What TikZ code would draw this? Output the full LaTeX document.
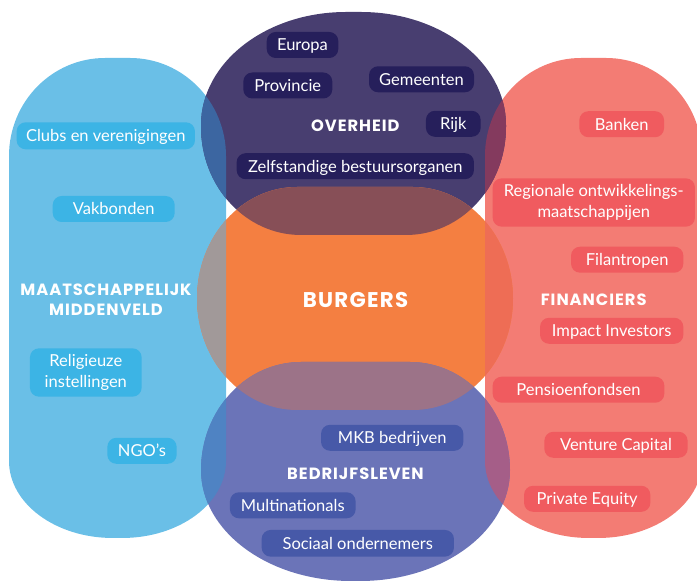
\documentclass[tikz,border=0pt]{standalone}
\usepackage{fontspec}
\setmainfont{Lato}
\newfontfamily\headfont{Poppins}[LetterSpace=6]
\definecolor{cL}{HTML}{6ABFE7}
\definecolor{cR}{HTML}{F37C74}
\definecolor{cT}{HTML}{483E70}
\definecolor{cC}{HTML}{F47F41}
\definecolor{cB}{HTML}{6B74B8}
\definecolor{pL}{HTML}{3CB4E5}
\definecolor{pR}{HTML}{F05B5F}
\definecolor{pT}{HTML}{261F5B}
\definecolor{pB}{HTML}{4759A8}
\definecolor{xLT}{HTML}{3C66A1}
\definecolor{xTR}{HTML}{843A5E}
\definecolor{xCT}{HTML}{874F57}
\definecolor{xCL}{HTML}{A19999}
\definecolor{xCR}{HTML}{EE6D55}
\definecolor{xBC}{HTML}{9C7388}
\definecolor{xBL}{HTML}{4F83C3}
\definecolor{xBR}{HTML}{A55E88}
\newcommand\blob[8]{(#1,{#3+#8}) -- (#1,{#4-#6}) arc[start angle=180,end angle=90,x radius=#5pt,y radius=#6pt] -- ({#2-#5},#4) arc[start angle=90,end angle=0,x radius=#5pt,y radius=#6pt] -- (#2,{#3+#8}) arc[start angle=0,end angle=-90,x radius=#7pt,y radius=#8pt] -- ({#1+#7},#3) arc[start angle=-90,end angle=-180,x radius=#7pt,y radius=#8pt] -- cycle}
\newcommand\shL{\blob{9}{226}{43}{523}{96}{98}{104}{77}}
\newcommand\shR{\blob{485}{702}{43}{523}{96}{98}{104}{77}}
\newcommand\shT{\blob{201}{506}{346}{569}{145}{113}{100}{108}}
\newcommand\shC{\blob{197}{513}{171}{394}{100}{111.5}{100}{111.5}}
\newcommand\shB{\blob{201}{510}{0}{219}{100}{108}{150}{111}}
\newcommand\pillfs{\fontsize{16.5}{21}\selectfont}
\newcommand\headfs{\headfont\bfseries\fontsize{16.3}{20}\selectfont}
\tikzset{
  pill/.style={rounded corners=9pt, minimum height=26pt, inner sep=0pt, text=white, font=\pillfs, text height=11.9pt, text depth=0pt},
  pilltwo/.style={rounded corners=9pt, minimum height=48.3pt, inner sep=0pt, text=white, font=\pillfs, align=center},
  head/.style={text=white, font=\headfs, inner sep=0pt, align=center},
  lp/.style={pill, fill=pL}, rp/.style={pill, fill=pR}, tp/.style={pill, fill=pT}, bp/.style={pill, fill=pB},
}
\begin{document}
\begin{tikzpicture}[x=1pt,y=1pt]
\useasboundingbox (0,0) rectangle (697,581);
\clip (0,0) rectangle (697,581);
% base shapes
\fill[cL] \shL;
\fill[cR] \shR;
\fill[cT] \shT;
\fill[cC] \shC;
\fill[cB] \shB;
% overlaps
\begin{scope}\clip \shL; \fill[xLT] \shT; \end{scope}
\begin{scope}\clip \shR; \fill[xTR] \shT; \end{scope}
\begin{scope}\clip \shC; \fill[xCT] \shT; \end{scope}
\begin{scope}\clip \shC; \fill[xCL] \shL; \end{scope}
\begin{scope}\clip \shC; \fill[xCR] \shR; \end{scope}
\begin{scope}\clip \shB; \fill[xBC] \shC; \end{scope}
\begin{scope}\clip \shB; \fill[xBL] \shL; \end{scope}
\begin{scope}\clip \shB; \fill[xBR] \shR; \end{scope}
% headings
\node[head] (overheid) at (355.3,455.3) {OVERHEID};
\node[head] (midden) at (106,281.2) {MAATSCHAPPELIJK\\MIDDENVELD};
\node[head] (financiers) at (593.7,281.5) {FINANCIERS};
\node[head] (bedrijf) at (355.5,107.5) {BEDRIJFSLEVEN};
\node[head, font=\headfont\bfseries\fontsize{21.3}{24}\selectfont] (burgers) at (355.5,281) {BURGERS};
% top pills
\node[tp, minimum width=71.6pt] (europa) at (302.5,536) {Europa};
\node[tp, minimum width=89pt] (provincie) at (287.8,495.5) {Provincie};
\node[tp, minimum width=105pt] (gemeenten) at (421.5,501.7) {Gemeenten};
\node[tp, minimum width=54.7pt] (rijk) at (453.3,457.2) {Rijk};
\node[tp, minimum width=237.3pt] (zbo) at (355.3,414.8) {Zelfstandige bestuursorganen};
% left pills
\node[lp, minimum width=178.3pt, minimum height=27pt] (clubs) at (105.8,445.2) {Clubs en verenigingen};
\node[lp, minimum width=122pt] (vakbonden) at (113.7,372) {Vakbonden};
\node[pilltwo, fill=pL, minimum width=111.7pt] (relig) at (85.8,208.5) {Religieuze\\instellingen};
\node[lp, minimum width=69.3pt] (ngo) at (142,130.2) {NGO’s};
% right pills
\node[rp, minimum width=84.7pt] (banken) at (621.7,456.8) {Banken};
\node[pilltwo, fill=pR, minimum width=202.3pt] (regio) at (593.8,378.5) {Regionale ontwikkelings-\\maatschappijen};
\node[rp, minimum width=112.3pt] (filan) at (627.2,321.3) {Filantropen};
\node[rp, minimum width=143.3pt] (impact) at (611.7,250.2) {Impact Investors};
\node[rp, minimum width=171.7pt] (pensioen) at (578.5,191.3) {Pensioenfondsen};
\node[rp, minimum width=143.3pt] (venture) at (616,136.2) {Venture Capital};
\node[rp, minimum width=126.3pt] (private) at (587.2,82.2) {Private Equity};
% bottom pills
\node[bp, minimum width=142.3pt] (mkb) at (392.2,143.2) {MKB bedrijven};
\node[bp, minimum width=125.7pt] (multi) at (292.8,75.7) {Multinationals};
\node[bp, minimum width=192.3pt, minimum height=26.7pt] (sociaal) at (357.8,37.7) {Sociaal ondernemers};
\end{tikzpicture}
\end{document}
